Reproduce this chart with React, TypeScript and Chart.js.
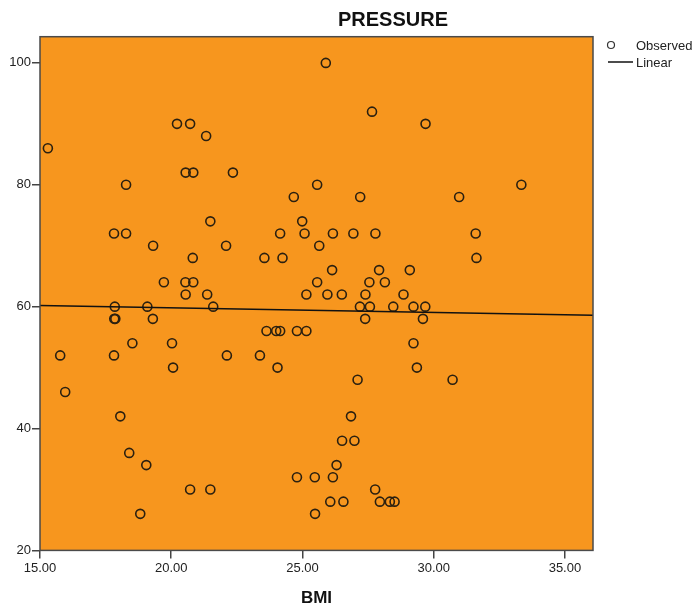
import React, { useEffect, useRef } from "react";
import { Chart, registerables } from "chart.js";

Chart.register(...registerables);

const bmi: number[] = [
  20.22, 20.72, 21.33, 15.3, 20.55, 20.84, 22.35, 18.28, 21.49, 17.82,
  18.28, 19.31, 22.09, 20.82, 19.72, 20.54, 20.84, 20.55, 21.37, 17.85,
  19.09, 21.6, 17.83, 17.87, 19.3, 18.52, 20.03, 15.77, 17.82, 22.12,
  20.07, 15.96, 18.06, 18.4, 19.05, 20.72, 21.49, 18.82, 25.89, 27.65,
  25.56, 24.67, 27.2, 24.99, 24.15, 25.08, 26.16, 26.94, 27.78, 25.64,
  23.55, 24.24, 26.13, 27.92, 29.09, 25.56, 27.55, 28.14, 25.15, 25.95,
  26.5, 27.4, 28.85, 27.19, 27.57, 28.46, 29.23, 29.68, 29.59, 27.39,
  23.63, 24.0, 24.15, 24.79, 25.15, 29.23, 23.38, 24.05, 29.36, 27.1,
  30.72, 26.85, 26.51, 26.98, 26.3, 24.79, 25.47, 26.16, 27.77, 26.06,
  26.56, 27.95, 28.33, 28.51, 25.48, 29.69, 33.34, 30.97, 31.6, 31.63,
];

const pressure: number[] = [
  90, 90, 88, 86, 82, 82, 82, 80, 74, 72,
  72, 70, 70, 68, 64, 64, 64, 62, 62, 60,
  60, 60, 58, 58, 58, 54, 54, 52, 52, 52,
  50, 46, 42, 36, 34, 30, 30, 26, 100, 92,
  80, 78, 78, 74, 72, 72, 72, 72, 72, 70,
  68, 68, 66, 66, 66, 64, 64, 64, 62, 62,
  62, 62, 62, 60, 60, 60, 60, 60, 58, 58,
  56, 56, 56, 56, 56, 54, 52, 50, 50, 48,
  48, 42, 38, 38, 34, 32, 32, 32, 30, 28,
  28, 28, 28, 28, 26, 90, 80, 78, 72, 68,
];

// Fitted linear line endpoints
const fitX: number[] = [15, 36.07];
const fitY: number[] = [60.2, 58.6];

const xTicks: number[] = [15, 20, 25, 30, 35];
const yTicks: number[] = [20, 40, 60, 80, 100];

const chartTitle = "PRESSURE";
const xTitle = "BMI";
const legendLabels: string[] = ["Observed", "Linear"];

const FONT = "'Liberation Sans', Arial, sans-serif";
const ORANGE = "rgb(247,150,30)";

const decorPlugin = {
  id: "decor",
  beforeDatasetsDraw(chart: any) {
    const { ctx, chartArea: a } = chart;
    ctx.save();
    ctx.fillStyle = ORANGE;
    ctx.fillRect(a.left, a.top, a.right - a.left, a.bottom - a.top);
    ctx.restore();
  },
  afterDraw(chart: any) {
    const { ctx, chartArea: a } = chart;
    ctx.save();
    // border
    ctx.strokeStyle = "#4a4a4a";
    ctx.lineWidth = 1.5;
    ctx.strokeRect(a.left, a.top, a.right - a.left, a.bottom - a.top);
    // title
    ctx.fillStyle = "#111";
    ctx.textAlign = "center";
    ctx.textBaseline = "middle";
    ctx.font = `bold 20px ${FONT}`;
    ctx.fillText(chartTitle, 393, 20);
    // x title
    ctx.font = `bold 17px ${FONT}`;
    ctx.fillText(xTitle, (a.left + a.right) / 2, 598);
    // legend
    ctx.textAlign = "left";
    ctx.font = `13px ${FONT}`;
    ctx.fillStyle = "#222";
    ctx.strokeStyle = "#333";
    ctx.lineWidth = 1.2;
    ctx.beginPath();
    ctx.arc(611, 45, 3.5, 0, Math.PI * 2);
    ctx.stroke();
    ctx.fillText(legendLabels[0], 636, 46);
    ctx.strokeStyle = "#111";
    ctx.lineWidth = 1.5;
    ctx.beginPath();
    ctx.moveTo(608, 62);
    ctx.lineTo(633, 62);
    ctx.stroke();
    ctx.fillText(legendLabels[1], 636, 63);
    ctx.restore();
  },
};

export default function App() {
  const ref = useRef<HTMLCanvasElement | null>(null);

  useEffect(() => {
    if (!ref.current) return;
    const points = bmi.map((x, i) => ({ x, y: pressure[i] }));
    const line = fitX.map((x, i) => ({ x, y: fitY[i] }));
    const chart = new Chart(ref.current, {
      type: "scatter",
      data: {
        datasets: [
          {
            label: legendLabels[0],
            data: points,
            pointStyle: "circle",
            pointRadius: 4.5,
            pointBorderWidth: 1.6,
            borderColor: "#2b2010",
            backgroundColor: "rgba(0,0,0,0)",
            order: 2,
          } as any,
          {
            type: "line",
            label: legendLabels[1],
            data: line,
            borderColor: "#111",
            borderWidth: 1.4,
            pointRadius: 0,
            fill: false,
            order: 1,
          } as any,
        ],
      },
      options: {
        responsive: false,
        animation: false,
        devicePixelRatio: 1,
        layout: { padding: { top: 36.7, right: 103, bottom: 0, left: 0 } },
        plugins: {
          legend: { display: false },
          title: { display: false },
          tooltip: { enabled: false },
        },
        scales: {
          x: {
            type: "linear",
            min: 15,
            max: 36.07,
            afterBuildTicks: (s: any) => {
              s.ticks = xTicks.map((v) => ({ value: v }));
            },
            afterFit: (s: any) => {
              s.height = 56.6;
            },
            ticks: {
              callback: (v: any) => Number(v).toFixed(2),
              color: "#222",
              font: { family: FONT, size: 13 },
              padding: 2,
              maxRotation: 0,
            },
            grid: {
              display: true,
              drawOnChartArea: false,
              drawTicks: true,
              tickLength: 8,
              color: "#444",
              lineWidth: 1.5,
            },
            border: { display: false },
          },
          y: {
            type: "linear",
            min: 20,
            max: 104.3,
            afterBuildTicks: (s: any) => {
              s.ticks = yTicks.map((v) => ({ value: v }));
            },
            afterFit: (s: any) => {
              s.width = 40;
            },
            ticks: {
              callback: (v: any) => String(v),
              color: "#222",
              font: { family: FONT, size: 13 },
              padding: 1,
            },
            grid: {
              display: true,
              drawOnChartArea: false,
              drawTicks: true,
              tickLength: 8,
              color: "#444",
              lineWidth: 1.5,
            },
            border: { display: false },
          },
        },
      },
      plugins: [decorPlugin],
    });
    return () => chart.destroy();
  }, []);

  return (
    <div style={{ position: "fixed", left: 0, top: 0, width: 696, height: 607, background: "#fff" }}>
      <canvas ref={ref} width={696} height={607} style={{ width: 696, height: 607, display: "block" }} />
    </div>
  );
}
